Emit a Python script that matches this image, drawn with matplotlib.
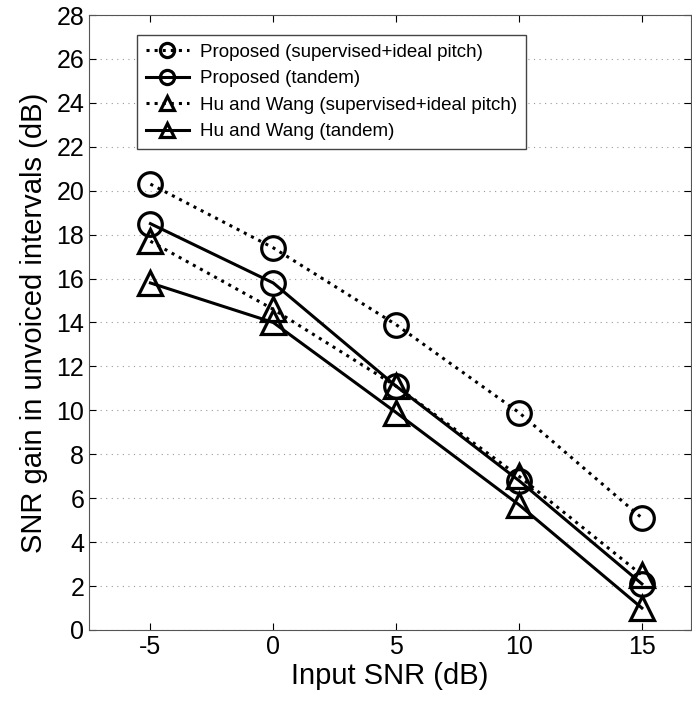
import numpy as np
import matplotlib.pyplot as plt

plt.rcParams['font.family'] = ['Liberation Sans', 'DejaVu Sans']

# 数据
snr = [-5, 0, 5, 10, 15]
prop_sup = [20.3, 17.4, 13.9, 9.9, 5.1]
prop_tan = [18.5, 15.8, 11.1, 6.8, 2.1]
hw_sup = [17.7, 14.6, 11.1, 7.0, 2.5]
hw_tan = [15.8, 14.0, 9.9, 5.7, 1.0]
labels = ['Proposed (supervised+ideal pitch)', 'Proposed (tandem)',
          'Hu and Wang (supervised+ideal pitch)', 'Hu and Wang (tandem)']

fig = plt.figure(figsize=(6.92, 7.01), dpi=100)
ax = fig.add_axes([0.1286, 0.1013, 0.87, 0.8773])

style = dict(color='black', linewidth=2.2, markersize=17,
             markerfacecolor='none', markeredgewidth=2.3)
ax.plot(snr, prop_sup, linestyle=':', marker='o', label=labels[0], **style)
ax.plot(snr, prop_tan, linestyle='-', marker='o', label=labels[1], **style)
ax.plot(snr, hw_sup, linestyle=':', marker='^', label=labels[2], **style)
ax.plot(snr, hw_tan, linestyle='-', marker='^', label=labels[3], **style)

ax.set_xlim(-7.5, 17)
ax.set_ylim(0, 28)
ax.set_xticks(snr)
ax.set_xticklabels(['-5', '0', '5', '10', '15'])
ax.set_yticks(np.arange(0, 29, 2))
ax.tick_params(direction='in', labelsize=18, top=True, right=True, length=5)
ax.yaxis.grid(True, linestyle=(0, (1, 4)), color='#999999', linewidth=0.8)
for s in ax.spines.values():
    s.set_color('#555555')

ax.set_xlabel('Input SNR (dB)', fontsize=21, labelpad=2)
ax.set_ylabel('SNR gain in unvoiced intervals (dB)', fontsize=21, labelpad=6)

leg = ax.legend(loc='upper left', bbox_to_anchor=(0.08, 0.967), fontsize=13.5,
                handlelength=2.3, markerscale=0.6, fancybox=False,
                framealpha=1, edgecolor='#444444', borderpad=0.45,
                labelspacing=0.5, handletextpad=0.6, borderaxespad=0)
leg.get_frame().set_linewidth(1.0)

fig.savefig('out.png', dpi=100)
